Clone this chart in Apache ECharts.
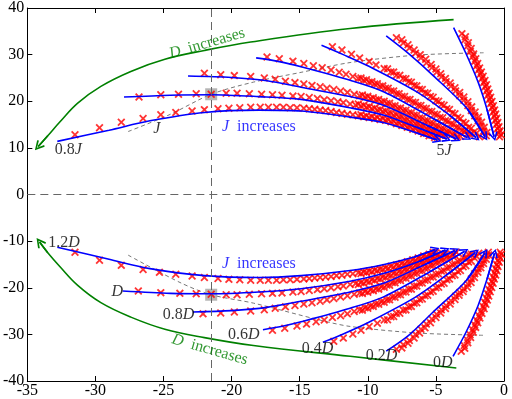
<!DOCTYPE html>
<html>
<head>
<meta charset="utf-8">
<script src="https://cdn.jsdelivr.net/npm/echarts/dist/echarts.min.js"></script>
<style>
html, body { margin: 0; padding: 0; background: #fff; }
#main { width: 512px; height: 399px; }
</style>
</head>
<body>
<div id="main"></div>
<script>
// fitted curves, upper half (J family)
let lineJ08 = [[-32.8,11.4],[-29,13.8],[-26,15.8],[-22,17.6],[-18,18.1],[-14.9,17.9],[-11.3,16.6],[-8.8,15.4],[-6.4,13.2],[-4.9,11.7]]
let lineJ1 = [[-27.9,20.9],[-24.5,21.3],[-21.5,21.4],[-18,21.0],[-14.9,20.4],[-11.3,18.6],[-8.8,17.0],[-6.4,14.4],[-4.2,11.9]]
let lineJ3 = [[-23.2,25.4],[-20,25.1],[-17.4,24.4],[-14.9,23.0],[-11.3,21.0],[-8.8,19.1],[-5.7,14.9],[-3.5,11.9]]
let lineJ4 = [[-18.2,29.3],[-16.5,28.5],[-14.9,27.4],[-11.3,24.5],[-8.8,22.0],[-5.2,16.3],[-2.7,12.2]]
let lineJ5 = [[-13.4,32.0],[-11.8,30.0],[-10.0,27.6],[-6.4,22.0],[-4.0,17.0],[-2.05,12.2]]
let lineJ6 = [[-8.65,34.0],[-7.0,30.2],[-5.2,25.5],[-2.7,18.4],[-1.4,12.4]]
let lineJ7 = [[-3.7,35.8],[-2.8,30.3],[-1.9,24.1],[-1.25,18.3],[-0.73,12.4]]

// fitted curves, lower half (D family)
let lineD12 = [[-32.8,-11.3],[-29,-13.9],[-26,-15.9],[-22,-17.4],[-18,-17.8],[-14.9,-17.4],[-11.3,-16.3],[-8.8,-15.0],[-6.6,-13.4],[-5.05,-11.8]]
let lineD1 = [[-28.0,-20.7],[-24.5,-21.2],[-21.5,-21.3],[-18,-20.9],[-14.9,-20.2],[-11.3,-18.6],[-8.8,-16.9],[-6.2,-14.3],[-4.3,-11.9]]
let lineD08 = [[-22.85,-25.2],[-20,-24.9],[-17.4,-24.2],[-14.9,-22.9],[-11.3,-20.9],[-8.8,-19.0],[-5.8,-15.0],[-3.6,-12.0]]
let lineD06 = [[-17.7,-29.0],[-16.2,-28.2],[-14.9,-27.3],[-11.3,-24.4],[-8.8,-21.9],[-5.4,-16.5],[-2.9,-12.2]]
let lineD04 = [[-13.3,-31.7],[-11.8,-29.9],[-10.0,-27.5],[-6.5,-22.0],[-4.1,-17.0],[-2.1,-12.4]]
let lineD02 = [[-8.65,-33.6],[-7.0,-30.2],[-5.2,-25.2],[-2.75,-18.4],[-1.4,-12.5]]
let lineD0 = [[-3.74,-34.7],[-2.8,-29.6],[-1.9,-23.8],[-1.25,-18.2],[-0.7,-12.6]]

// simulated points (red crosses)
let crossJ08 = [[-31.5,12.8],[-29.7,14.3],[-28.1,15.5],[-26.5,16.3],[-25.2,17.1],[-24.1,17.6],[-22.9,17.9],[-22.0,18.2],[-21.0,18.4],[-20.2,18.5],[-19.4,18.6],[-18.6,18.7],[-17.9,18.7],[-17.3,18.7],[-16.7,18.7],[-16.2,18.7],[-15.7,18.6],[-15.2,18.6],[-14.7,18.5],[-14.3,18.4],[-13.9,18.3],[-13.5,18.1],[-13.1,18.0],[-12.7,17.8],[-12.3,17.6],[-11.9,17.4],[-11.5,17.2],[-11.1,17.1],[-10.7,16.9],[-10.3,16.7],[-9.9,16.5],[-9.5,16.3],[-9.1,16.1],[-8.7,15.9],[-8.3,15.6],[-7.9,15.2],[-7.5,14.8],[-7.1,14.4],[-6.7,14.0],[-6.3,13.6],[-5.9,13.1],[-5.5,12.6],[-5.1,12.2],
    [-10.5,17.1],[-10.1,16.9],[-9.7,16.7],[-9.3,16.5],[-8.9,16.3],[-8.5,16.05],[-8.1,15.7],[-7.7,15.3],[-7.3,14.9],[-6.9,14.5],[-6.5,14.1],[-6.1,13.65],[-5.7,13.15],[-5.3,12.7],[-4.9,12.3]]
let crossJ1 = [[-26.8,20.9],[-25.2,21.4],[-23.9,21.5],[-22.6,21.6],[-21.5,21.5],[-20.4,21.7],[-19.6,21.7],[-18.7,21.6],[-17.8,21.5],[-17.0,21.4],[-16.3,21.3],[-15.5,21.1],[-14.9,21.0],[-14.3,20.8],[-13.7,20.6],[-13.2,20.3],[-12.7,20.1],[-12.2,19.9],[-11.8,19.7],[-11.3,19.4],[-10.9,19.2],[-10.5,19.0],[-10.1,18.7],[-9.7,18.4],[-9.3,18.1],[-8.9,17.8],[-8.5,17.4],[-8.1,17.0],[-7.7,16.6],[-7.3,16.1],[-6.9,15.6],[-6.5,15.2],[-6.1,14.7],[-5.7,14.2],[-5.3,13.7],[-4.9,13.2],[-4.5,12.7],
    [-10.7,19.4],[-10.3,19.15],[-9.9,18.85],[-9.5,18.55],[-9.1,18.25],[-8.7,17.9],[-8.3,17.5],[-7.9,17.1],[-7.5,16.65],[-7.1,16.15],[-6.7,15.7],[-6.3,15.25],[-5.9,14.75],[-5.5,14.25],[-5.1,13.75],[-4.7,13.25],[-4.3,12.7]]
let crossJ3 = [[-22.0,26.0],[-20.8,25.7],[-19.8,25.5],[-18.6,25.3],[-17.6,25.0],[-16.8,24.7],[-16.05,24.3],[-15.35,24.0],[-14.7,23.7],[-14.1,23.4],[-13.5,23.1],[-13.0,22.8],[-12.5,22.5],[-12.0,22.2],[-11.5,21.9],[-11.0,21.5],[-10.6,21.2],[-10.2,20.9],[-9.8,20.6],[-9.4,20.3],[-9.0,19.9],[-8.6,19.5],[-8.2,19.0],[-7.8,18.5],[-7.4,18.0],[-7.0,17.5],[-6.6,17.0],[-6.2,16.4],[-5.8,15.8],[-5.4,15.3],[-5.0,14.7],[-4.6,14.1],[-4.2,13.5],[-3.8,12.9],[-3.4,12.4],
    [-10.4,21.35],[-10.0,21.05],[-9.6,20.75],[-9.2,20.4],[-8.8,20.0],[-8.4,19.55],[-8.0,19.05],[-7.6,18.55],[-7.2,18.05],[-6.8,17.55],[-6.4,17.0],[-6.0,16.4],[-5.6,15.85],[-5.2,15.3],[-4.8,14.7],[-4.4,14.1],[-4.0,13.5],[-3.6,12.95],[-3.2,12.5]]
let crossJ4 = [[-17.4,29.5],[-16.5,29.1],[-15.5,28.6],[-14.7,28.1],[-14.0,27.6],[-13.35,27.2],[-12.7,26.7],[-12.1,26.2],[-11.6,25.8],[-11.1,25.3],[-10.7,24.9],[-10.3,24.5],[-9.9,24.1],[-9.5,23.7],[-9.1,23.2],[-8.7,22.8],[-8.3,22.2],[-7.9,21.6],[-7.5,21.0],[-7.1,20.4],[-6.7,19.8],[-6.3,19.1],[-5.9,18.5],[-5.5,17.8],[-5.1,17.2],[-4.7,16.5],[-4.3,15.8],[-3.9,15.1],[-3.5,14.4],[-3.1,13.7],[-2.7,13.0],
    [-10.5,25.0],[-10.1,24.6],[-9.7,24.2],[-9.3,23.75],[-8.9,23.3],[-8.5,22.8],[-8.1,22.2],[-7.7,21.6],[-7.3,21.0],[-6.9,20.4],[-6.5,19.75],[-6.1,19.1],[-5.7,18.45],[-5.3,17.8],[-4.9,17.15],[-4.5,16.45],[-4.1,15.75],[-3.7,15.05],[-3.3,14.35],[-2.9,13.65],[-2.5,12.9]]
let crossJ5 = [[-12.6,31.7],[-11.9,31.0],[-11.2,30.1],[-10.6,29.3],[-9.9,28.5],[-9.4,27.8],[-8.8,27.0],[-8.3,26.3],[-7.9,25.6],[-7.4,24.9],[-7.0,24.2],[-6.6,23.4],[-6.2,22.6],[-5.8,21.8],[-5.4,21.0],[-5.0,20.1],[-4.6,19.3],[-4.2,18.4],[-3.8,17.5],[-3.4,16.5],[-3.0,15.5],[-2.6,14.4],[-2.2,13.4],[-1.8,12.4],
    [-8.55,26.95],[-8.1,26.25],[-7.65,25.55],[-7.2,24.85],[-6.8,24.1],[-6.4,23.3],[-6.0,22.5],[-5.6,21.7],[-5.2,20.85],[-4.8,20.0],[-4.4,19.15],[-4.0,18.25],[-3.6,17.3],[-3.2,16.3],[-2.8,15.25],[-2.4,14.2],[-2.0,13.2]]
let crossJ6 = [[-7.9,33.6],[-7.4,32.5],[-6.95,31.4],[-6.5,30.3],[-6.1,29.3],[-5.7,28.2],[-5.3,27.2],[-4.95,26.2],[-4.6,25.2],[-4.25,24.2],[-3.9,23.2],[-3.55,22.2],[-3.25,21.2],[-2.95,20.2],[-2.65,19.1],[-2.4,18.0],[-2.15,16.9],[-1.9,15.8],[-1.7,14.7],[-1.5,13.6],[-1.3,12.6],
    [-7.5,33.2],[-7.05,32.1],[-6.6,31.0],[-6.15,30.0],[-5.75,29.0],[-5.35,27.9],[-5.0,26.9],[-4.65,25.9],[-4.3,24.9],[-3.95,23.9],[-3.6,22.9],[-3.25,21.9],[-2.95,20.9],[-2.65,19.9],[-2.37,18.8],[-2.12,17.7],[-1.87,16.6],[-1.65,15.5],[-1.45,14.4],[-1.25,13.3]]
let crossJ7 = [[-3.09,34.5],[-2.87,33.2],[-2.66,31.9],[-2.47,30.7],[-2.30,29.6],[-2.15,28.6],[-2.01,27.6],[-1.88,26.7],[-1.75,25.8],[-1.62,24.9],[-1.49,24.0],[-1.39,23.1],[-1.29,22.2],[-1.19,21.3],[-1.08,20.4],[-0.98,19.5],[-0.88,18.6],[-0.80,17.7],[-0.72,16.8],[-0.64,15.9],[-0.56,15.0],[-0.48,14.1],[-0.40,13.2],[-0.33,12.4],
    [-2.83,33.85],[-2.62,32.55],[-2.41,31.3],[-2.23,30.15],[-2.07,29.1],[-1.93,28.1],[-1.79,27.15],[-1.66,26.25],[-1.53,25.35],[-1.4,24.45],[-1.29,23.55],[-1.19,22.65],[-1.09,21.75],[-0.98,20.85],[-0.88,19.95],[-0.78,19.05],[-0.69,18.15],[-0.61,17.25],[-0.53,16.35],[-0.45,15.45],[-0.37,14.55],[-0.29,13.65],[-0.21,12.8]]

let crossD12 = [[-31.5,-12.4],[-29.7,-14.1],[-28.1,-15.2],[-26.5,-16.1],[-25.3,-16.7],[-24.1,-17.1],[-22.9,-17.5],[-22.0,-17.8],[-21.0,-18.0],[-20.2,-18.2],[-19.4,-18.3],[-18.6,-18.4],[-17.9,-18.4],[-17.3,-18.4],[-16.7,-18.4],[-16.2,-18.3],[-15.7,-18.3],[-15.2,-18.2],[-14.7,-18.1],[-14.3,-18.0],[-13.9,-17.9],[-13.5,-17.8],[-13.1,-17.7],[-12.7,-17.6],[-12.3,-17.4],[-11.9,-17.3],[-11.5,-17.1],[-11.1,-17.0],[-10.7,-16.8],[-10.3,-16.6],[-9.9,-16.4],[-9.5,-16.2],[-9.1,-16.0],[-8.7,-15.7],[-8.3,-15.4],[-7.9,-15.1],[-7.5,-14.8],[-7.1,-14.4],[-6.7,-14.0],[-6.3,-13.6],[-5.9,-13.2],[-5.5,-12.8],[-5.2,-12.4],
    [-10.5,-16.95],[-10.1,-16.75],[-9.7,-16.55],[-9.3,-16.35],[-8.9,-16.1],[-8.5,-15.85],[-8.1,-15.55],[-7.7,-15.25],[-7.3,-14.9],[-6.9,-14.5],[-6.5,-14.1],[-6.1,-13.7],[-5.7,-13.3],[-5.35,-12.9],[-5.0,-12.5]]
let crossD1 = [[-26.85,-20.7],[-25.2,-21.05],[-23.8,-21.2],[-22.6,-21.3],[-21.5,-21.4],[-20.4,-21.5],[-19.6,-21.5],[-18.7,-21.4],[-17.8,-21.3],[-17.0,-21.2],[-16.3,-21.1],[-15.5,-20.9],[-14.9,-20.8],[-14.3,-20.6],[-13.7,-20.4],[-13.2,-20.2],[-12.7,-20.0],[-12.2,-19.8],[-11.8,-19.6],[-11.3,-19.3],[-10.9,-19.1],[-10.5,-18.9],[-10.1,-18.6],[-9.7,-18.3],[-9.3,-18.0],[-8.9,-17.7],[-8.5,-17.3],[-8.1,-16.9],[-7.7,-16.5],[-7.3,-16.1],[-6.9,-15.6],[-6.5,-15.2],[-6.1,-14.7],[-5.7,-14.2],[-5.3,-13.7],[-4.9,-13.2],[-4.5,-12.7],
    [-10.7,-19.3],[-10.3,-19.05],[-9.9,-18.75],[-9.5,-18.45],[-9.1,-18.15],[-8.7,-17.8],[-8.3,-17.4],[-7.9,-17.0],[-7.5,-16.6],[-7.1,-16.15],[-6.7,-15.7],[-6.3,-15.25],[-5.9,-14.75],[-5.5,-14.25],[-5.1,-13.75],[-4.7,-13.25],[-4.3,-12.7]]
let crossD08 = [[-22.1,-25.6],[-20.8,-25.4],[-19.8,-25.2],[-18.6,-25.0],[-17.6,-24.7],[-16.8,-24.4],[-16.05,-24.1],[-15.35,-23.8],[-14.7,-23.5],[-14.1,-23.2],[-13.5,-22.9],[-13.0,-22.6],[-12.5,-22.3],[-12.0,-22.0],[-11.5,-21.7],[-11.0,-21.4],[-10.6,-21.1],[-10.2,-20.8],[-9.8,-20.5],[-9.4,-20.2],[-9.0,-19.8],[-8.6,-19.4],[-8.2,-18.9],[-7.8,-18.4],[-7.4,-17.9],[-7.0,-17.4],[-6.6,-16.9],[-6.2,-16.3],[-5.8,-15.8],[-5.4,-15.2],[-5.0,-14.6],[-4.6,-14.0],[-4.2,-13.4],[-3.8,-12.9],[-3.5,-12.4],
    [-10.4,-21.25],[-10.0,-20.95],[-9.6,-20.65],[-9.2,-20.3],[-8.8,-19.9],[-8.4,-19.45],[-8.0,-18.95],[-7.6,-18.45],[-7.2,-17.95],[-6.8,-17.45],[-6.4,-16.9],[-6.0,-16.35],[-5.6,-15.8],[-5.2,-15.2],[-4.8,-14.6],[-4.4,-14.0],[-4.0,-13.45],[-3.65,-12.9]]
let crossD06 = [[-17.0,-29.1],[-16.1,-28.7],[-15.2,-28.2],[-14.5,-27.8],[-13.8,-27.3],[-13.2,-26.9],[-12.6,-26.4],[-12.0,-26.0],[-11.5,-25.6],[-11.0,-25.1],[-10.6,-24.7],[-10.2,-24.3],[-9.8,-23.9],[-9.4,-23.5],[-9.0,-23.0],[-8.6,-22.6],[-8.2,-22.0],[-7.8,-21.5],[-7.4,-20.9],[-7.0,-20.3],[-6.6,-19.7],[-6.2,-19.0],[-5.8,-18.4],[-5.4,-17.7],[-5.0,-17.1],[-4.6,-16.4],[-4.2,-15.7],[-3.8,-15.0],[-3.4,-14.3],[-3.0,-13.6],[-2.6,-12.9],
    [-10.4,-24.8],[-10.0,-24.4],[-9.6,-24.0],[-9.2,-23.55],[-8.8,-23.1],[-8.4,-22.6],[-8.0,-22.05],[-7.6,-21.5],[-7.2,-20.9],[-6.8,-20.3],[-6.4,-19.65],[-6.0,-19.0],[-5.6,-18.35],[-5.2,-17.7],[-4.8,-17.05],[-4.4,-16.35],[-4.0,-15.65],[-3.6,-14.95],[-3.2,-14.25],[-2.8,-13.55],[-2.4,-12.8]]
let crossD04 = [[-12.5,-31.5],[-11.8,-30.8],[-11.1,-29.9],[-10.5,-29.1],[-9.9,-28.3],[-9.3,-27.6],[-8.8,-26.9],[-8.3,-26.2],[-7.9,-25.5],[-7.4,-24.8],[-7.0,-24.1],[-6.6,-23.3],[-6.2,-22.5],[-5.8,-21.7],[-5.4,-20.9],[-5.0,-20.0],[-4.6,-19.2],[-4.2,-18.3],[-3.8,-17.4],[-3.4,-16.5],[-3.0,-15.5],[-2.6,-14.5],[-2.2,-13.5],[-1.85,-12.6],
    [-8.55,-26.85],[-8.1,-26.15],[-7.65,-25.45],[-7.2,-24.75],[-6.8,-24.0],[-6.4,-23.2],[-6.0,-22.4],[-5.6,-21.6],[-5.2,-20.75],[-4.8,-19.9],[-4.4,-19.05],[-4.0,-18.15],[-3.6,-17.25],[-3.2,-16.3],[-2.8,-15.3],[-2.4,-14.3],[-2.0,-13.3]]
let crossD02 = [[-7.9,-33.2],[-7.4,-32.2],[-6.95,-31.3],[-6.5,-30.0],[-6.1,-28.9],[-5.7,-27.8],[-5.3,-26.7],[-4.95,-25.7],[-4.6,-24.7],[-4.25,-23.8],[-3.9,-22.8],[-3.55,-21.8],[-3.25,-21.0],[-2.95,-20.2],[-2.65,-19.2],[-2.4,-18.1],[-2.15,-17.0],[-1.9,-15.9],[-1.7,-15.0],[-1.5,-14.1],[-1.3,-13.1],[-1.15,-12.4],
    [-7.5,-32.9],[-7.05,-31.9],[-6.6,-30.8],[-6.2,-29.7],[-5.8,-28.6],[-5.4,-27.5],[-5.0,-26.4],[-4.65,-25.4],[-4.3,-24.45],[-3.95,-23.5],[-3.6,-22.5],[-3.3,-21.6],[-3.0,-20.8],[-2.7,-19.9],[-2.42,-18.9],[-2.17,-17.8],[-1.92,-16.7],[-1.7,-15.7],[-1.5,-14.8],[-1.3,-13.9],[-1.12,-13.0]]
let crossD0 = [[-3.14,-33.6],[-2.92,-32.4],[-2.69,-31.2],[-2.49,-30.1],[-2.31,-29.0],[-2.15,-28.0],[-2.00,-27.0],[-1.84,-26.0],[-1.69,-25.0],[-1.53,-24.0],[-1.42,-23.1],[-1.31,-22.2],[-1.21,-21.3],[-1.10,-20.4],[-1.00,-19.5],[-0.90,-18.6],[-0.80,-17.7],[-0.71,-16.8],[-0.62,-15.9],[-0.54,-15.0],[-0.45,-14.1],[-0.36,-13.2],[-0.28,-12.4],
    [-2.88,-33.0],[-2.66,-31.8],[-2.45,-30.65],[-2.25,-29.55],[-2.08,-28.5],[-1.93,-27.5],[-1.77,-26.5],[-1.62,-25.5],[-1.46,-24.5],[-1.33,-23.55],[-1.22,-22.65],[-1.12,-21.75],[-1.01,-20.85],[-0.9,-19.95],[-0.8,-19.05],[-0.71,-18.15],[-0.61,-17.25],[-0.52,-16.35],[-0.44,-15.45],[-0.35,-14.55],[-0.27,-13.65],[-0.19,-12.8]]

// "D increases" arcs and the thin dashed guide curves
let greenTop = [[-3.7,37.5],[-11.3,35.6],[-18.6,32.7],[-22.0,30.9],[-24.9,29.0],[-27.4,26.4],[-29.6,23.2],[-31.3,19.6],[-32.6,15.6],[-33.5,12.6],[-34.2,10.3]]
let greenBottom = [[-3.5,-37.2],[-11.3,-34.7],[-18.4,-32.4],[-22.0,-30.7],[-24.9,-28.9],[-27.4,-26.3],[-29.6,-23.2],[-31.3,-19.5],[-32.6,-15.5],[-33.5,-12.5],[-34.1,-10.2]]
let guideTop = [[-27.6,13.5],[-24.5,17.2],[-21.5,21.5],[-18.4,24.1],[-14.9,26.2],[-11.3,28.3],[-6.4,29.9],[-1.5,30.4]]
let guideBottom = [[-27.6,-13.0],[-23.7,-19.0],[-21.5,-21.5],[-18.4,-23.3],[-13.7,-26.8],[-11.3,-28.3],[-6.4,-29.7],[-1.5,-30.2]]
let basePoints = [[-21.5,21.5],[-21.5,-21.5]]
let baseX = -21.5

let xTicks = { min: -35, max: 0, step: 5 }
let yTicks = { min: -40, max: 40, step: 10 }

// text notes: x, y, text
let notesBlack = [
    [-32.0, 9.6, '0.8{i|J}'],
    [-25.5, 14.1, '{i|J}'],
    [-4.4, 9.4, '5{i|J}'],
    [-32.3, -10.3, '1.2{i|D}'],
    [-28.4, -20.9, '{i|D}'],
    [-23.9, -25.8, '0.8{i|D}'],
    [-19.1, -30.0, '0.6{i|D}'],
    [-13.7, -33.2, '0.4{i|D}'],
    [-9.0, -34.7, '0.2{i|D}'],
    [-4.5, -36.0, '0{i|D}']
]
let notesBlue = [
    [-18.0, 14.5, '{i|J}  increases'],
    [-18.0, -14.8, '{i|J}  increases']
]
let notesGreen = [
    [-21.8, 32.4, '{i|D}  increases', 16],
    [-21.6, -33.3, '{i|D}  increases', -16]
]

let myChart = echarts.init(document.getElementById('main'))

const FONT = '"Liberation Serif", "Times New Roman", serif'
const crossPath = 'path://M0,1.6L1.6,0L5,3.4L8.4,0L10,1.6L6.6,5L10,8.4L8.4,10L5,6.6L1.6,10L0,8.4L3.4,5Z'
const headPath = 'path://M5,0L10,9L8.5,10L5,3.2L1.5,10L0,9Z'

function textLabel(color) {
    return {
        show: true,
        position: 'inside',
        formatter: p => p.data.value ? p.data.value[2] : p.data[2],
        fontFamily: FONT,
        fontSize: 16,
        color: color,
        rich: { i: { fontStyle: 'italic', fontFamily: FONT, fontSize: 16, color: color } }
    }
}

let blueLines = [lineJ08, lineJ1, lineJ3, lineJ4, lineJ5, lineJ6, lineJ7,
    lineD12, lineD1, lineD08, lineD06, lineD04, lineD02, lineD0]
let redCrosses = [crossJ08, crossJ1, crossJ3, crossJ4, crossJ5, crossJ6, crossJ7,
    crossD12, crossD1, crossD08, crossD06, crossD04, crossD02, crossD0]

let series = []

// dashed guides + reference lines
series.push({
    type: 'line', data: guideTop, smooth: 0.3, showSymbol: false, z: 1,
    lineStyle: { color: '#777', width: 1, type: [4, 3] },
    markLine: {
        silent: true, symbol: 'none', label: { show: false },
        lineStyle: { color: '#666', width: 1, type: [8, 5] },
        data: [{ xAxis: baseX }, { yAxis: 0 }]
    }
})
series.push({
    type: 'line', data: guideBottom, smooth: 0.3, showSymbol: false, z: 1,
    lineStyle: { color: '#777', width: 1, type: [4, 3] }
})
series.push({
    type: 'scatter', data: basePoints, symbol: 'rect', symbolSize: 12, z: 1,
    itemStyle: { color: 'rgba(140,140,140,0.8)' }
})

redCrosses.forEach(d => series.push({
    type: 'scatter', data: d, symbol: crossPath, symbolSize: 8, z: 2,
    itemStyle: { color: '#ff0000' }
}))

blueLines.forEach(d => series.push({
    type: 'line', data: d, smooth: 0.3, showSymbol: false, z: 3,
    lineStyle: { color: '#0000ff', width: 1.6 }
}))
series.push({
    type: 'lines', coordinateSystem: 'cartesian2d', z: 3,
    symbol: ['none', headPath], symbolSize: 9,
    lineStyle: { color: '#0000ff', width: 1.6, opacity: 1 },
    data: blueLines.map(d => ({ coords: [d[d.length - 2], d[d.length - 1]] }))
})

;[greenTop, greenBottom].forEach(d => series.push({
    type: 'line', data: d, smooth: 0.4, showSymbol: false, z: 3,
    lineStyle: { color: '#008000', width: 1.6 }
}))
series.push({
    type: 'lines', coordinateSystem: 'cartesian2d', z: 3,
    symbol: ['none', headPath], symbolSize: 10,
    lineStyle: { color: '#008000', width: 1.6, opacity: 1 },
    data: [greenTop, greenBottom].map(d => ({ coords: [d[d.length - 2], d[d.length - 1]] }))
})

// text
series.push({
    type: 'scatter', data: notesBlack, symbolSize: 1, z: 5,
    itemStyle: { color: 'rgba(0,0,0,0)' }, label: textLabel('#000')
})
series.push({
    type: 'scatter', data: notesBlue, symbolSize: 1, z: 5,
    itemStyle: { color: 'rgba(0,0,0,0)' }, label: textLabel('#0000ff')
})
series.push({
    type: 'scatter', symbolSize: 1, z: 5,
    itemStyle: { color: 'rgba(0,0,0,0)' }, label: textLabel('#007f00'),
    data: notesGreen.map(n => ({ value: [n[0], n[1], n[2]], label: { rotate: n[3] } }))
})

let axisCommon = {
    type: 'value',
    axisLine: { show: true, onZero: false, lineStyle: { color: '#000', width: 1 } },
    axisTick: { show: true, inside: true, length: 5, lineStyle: { color: '#000' } },
    splitLine: { show: false }
}

let option = {
    animation: false,
    backgroundColor: '#fff',
    grid: { left: 26, right: 8, top: 5, bottom: 17, containLabel: false },
    xAxis: [
        Object.assign({}, axisCommon, {
            min: xTicks.min, max: xTicks.max, interval: xTicks.step, position: 'bottom',
            axisLabel: { color: '#000', fontFamily: FONT, fontSize: 16, margin: 2 }
        }),
        Object.assign({}, axisCommon, {
            min: xTicks.min, max: xTicks.max, interval: xTicks.step, position: 'top',
            axisLabel: { show: false }
        })
    ],
    yAxis: [
        Object.assign({}, axisCommon, {
            min: yTicks.min, max: yTicks.max, interval: yTicks.step, position: 'left',
            axisLabel: { color: '#000', fontFamily: FONT, fontSize: 16, margin: 3 }
        }),
        Object.assign({}, axisCommon, {
            min: yTicks.min, max: yTicks.max, interval: yTicks.step, position: 'right',
            axisLabel: { show: false }
        })
    ],
    series: series
}

myChart.setOption(option)
</script>
</body>
</html>
